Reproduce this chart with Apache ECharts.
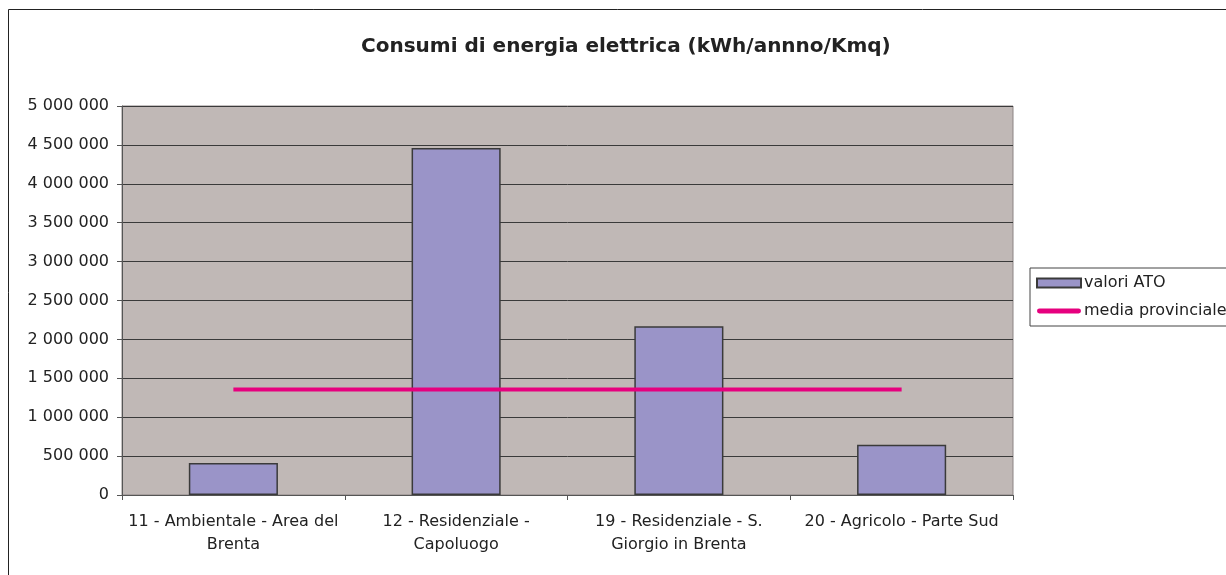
<!DOCTYPE html>
<html>
<head>
<meta charset="utf-8">
<script src="https://cdn.jsdelivr.net/npm/echarts@6/dist/echarts.min.js"></script>
<style>
  html, body { margin: 0; padding: 0; background: #fff; }
  #main { width: 1226px; height: 575px; }
</style>
</head>
<body>
<div id="main"></div>
<script>
const categories = [
  '11 - Ambientale - Area del\nBrenta',
  '12 - Residenziale -\nCapoluogo',
  '19 - Residenziale - S.\nGiorgio in Brenta',
  '20 - Agricolo - Parte Sud'
];
const valoriATO = [410000, 4460000, 2170000, 645000];
const mediaProvinciale = [1355000, 1355000, 1355000, 1355000];

const chart = echarts.init(document.getElementById('main'));

function fmt(v) {
  return String(v).replace(/\B(?=(\d{3})+(?!\d))/g, ' ');
}

const option = {
  backgroundColor: '#fff',
  animation: false,
  textStyle: { fontFamily: 'DejaVu Sans' },
  title: {
    text: 'Consumi di energia elettrica (kWh/annno/Kmq)',
    left: 356,
    top: 32,
    textStyle: { fontSize: 20, fontWeight: 'bold', color: '#222', fontFamily: 'DejaVu Sans' }
  },
  graphic: [{
    type: 'rect',
    shape: { x: 8.5, y: 9.5, width: 1300, height: 700 },
    style: { fill: 'none', stroke: '#222', lineWidth: 1 },
    silent: true
  }],
  legend: {
    orient: 'vertical',
    left: 1030,
    top: 268,
    backgroundColor: '#fff',
    borderColor: '#444',
    borderWidth: 1,
    padding: [7, 40, 7, 6],
    itemGap: 12,
    itemWidth: 44,
    itemHeight: 9,
    textStyle: { fontSize: 16, color: '#222', padding: [0, 0, 0, -2] },
    data: [
      { name: 'valori ATO', icon: 'rect' },
      { name: 'media provinciale', icon: 'path://M2,0 L42,0 A2.5,2.5 0 0 1 42,5 L2,5 A2.5,2.5 0 0 1 2,0 Z' }
    ]
  },
  grid: {
    left: 122,
    right: 213,
    top: 106,
    bottom: 80,
    show: true,
    backgroundColor: '#C0B8B6',
    borderColor: '#8c8484',
    borderWidth: 1
  },
  xAxis: {
    type: 'category',
    data: categories,
    boundaryGap: true,
    axisLine: { lineStyle: { color: '#555' } },
    axisTick: { show: true, length: 5, interval: 0, lineStyle: { color: '#555' } },
    axisLabel: { fontSize: 16, color: '#222', margin: 15, lineHeight: 23, interval: 0 }
  },
  yAxis: {
    type: 'value',
    min: 0,
    max: 5000000,
    interval: 500000,
    axisLine: { show: true, lineStyle: { color: '#555' } },
    axisTick: { show: true, length: 5, lineStyle: { color: '#555' } },
    axisLabel: { fontSize: 16, color: '#222', margin: 13, formatter: fmt },
    splitLine: { lineStyle: { color: '#3a3a3a', width: 1 } }
  },
  series: [
    {
      name: 'valori ATO',
      type: 'bar',
      data: valoriATO,
      barCategoryGap: '60%',
      itemStyle: { color: '#9A94C8', borderColor: '#3a3a3a', borderWidth: 1.5 }
    },
    {
      name: 'media provinciale',
      type: 'line',
      data: mediaProvinciale,
      symbol: 'none',
      lineStyle: { color: '#E6007E', width: 4 },
      itemStyle: { color: '#E6007E' }
    }
  ]
};

chart.setOption(option);
</script>
</body>
</html>
